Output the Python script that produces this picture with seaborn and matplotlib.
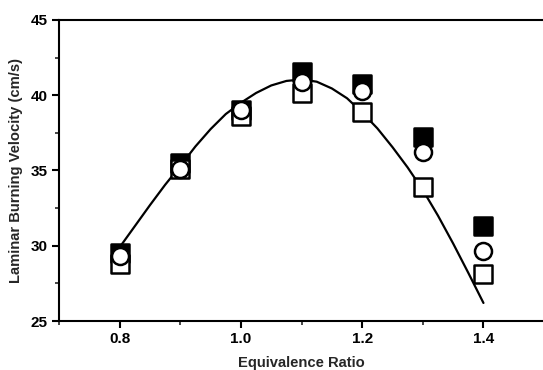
import matplotlib
matplotlib.use("Agg")
import matplotlib.pyplot as plt
from matplotlib.ticker import MultipleLocator
import seaborn as sns
import pandas as pd

# Data
phi = [0.8, 0.9, 1.0, 1.1, 1.2, 1.3, 1.4]
filled_sq = [29.5, 35.5, 39.0, 41.55, 40.75, 37.25, 31.3]
open_circle = [29.3, 35.1, 39.0, 40.85, 40.25, 36.25, 29.65]
open_sq = [28.8, 35.1, 38.6, 40.15, 38.9, 33.9, 28.1]

curve_x = [0.80, 0.825, 0.85, 0.875, 0.90, 0.925, 0.95, 0.975, 1.00, 1.025,
           1.05, 1.075, 1.10, 1.125, 1.15, 1.175, 1.20, 1.225, 1.25, 1.275,
           1.30, 1.325, 1.35, 1.375, 1.40]
curve_y = [29.9, 31.3, 32.7, 34.05, 35.3, 36.6, 37.75, 38.75, 39.5, 40.15,
           40.65, 40.95, 41.05, 40.9, 40.45, 39.8, 38.85, 37.8, 36.55, 35.2,
           33.7, 32.0, 30.15, 28.2, 26.2]

sns.set_style("ticks")
plt.rcParams['font.family'] = ['Liberation Sans', 'DejaVu Sans']

fig = plt.figure(figsize=(5.43, 3.70), dpi=100)
ax = fig.add_axes([0.1087, 0.1324, 0.8913 + 0.002, 0.8136])

df_curve = pd.DataFrame({"x": curve_x, "y": curve_y})
sns.lineplot(data=df_curve, x="x", y="y", ax=ax, color="black", linewidth=1.6,
             sort=False, zorder=2)

ms = 150
ew = 1.8
sns.scatterplot(x=phi, y=filled_sq, ax=ax, marker="s", s=ms, color="black",
                edgecolor="black", linewidth=ew, zorder=3)
sns.scatterplot(x=phi, y=open_sq, ax=ax, marker="s", s=ms, color="white",
                edgecolor="black", linewidth=ew, zorder=4)
sns.scatterplot(x=phi, y=open_circle, ax=ax, marker="o", s=ms * 1.0, color="white",
                edgecolor="black", linewidth=ew, zorder=5)

ax.set_xlim(0.7, 1.5)
ax.set_ylim(25, 45)
ax.xaxis.set_minor_locator(MultipleLocator(0.1))
ax.yaxis.set_major_locator(MultipleLocator(5))
ax.yaxis.set_minor_locator(MultipleLocator(2.5))
ax.set_xticks([0.8, 1.0, 1.2, 1.4])
ax.set_xticklabels(["0.8", "1.0", "1.2", "1.4"])

for s in ["left", "bottom", "top"]:
    ax.spines[s].set_linewidth(1.5)
    ax.spines[s].set_color("black")
ax.spines["right"].set_visible(False)

ax.tick_params(axis="both", which="major", direction="out", length=5, width=1.5,
               labelsize=11, colors="black", pad=3)
ax.tick_params(axis="both", which="minor", direction="out", length=3, width=1.2)
ax.tick_params(axis="x", top=False, which="both")
for lab in ax.get_xticklabels() + ax.get_yticklabels():
    lab.set_fontweight("bold")

ax.set_xlabel("Equivalence Ratio", fontsize=10.6, fontweight="bold", labelpad=7)
ax.set_ylabel("Laminar Burning Velocity (cm/s)", fontsize=10.6, fontweight="bold", labelpad=6)
if ax.get_legend() is not None:
    ax.get_legend().remove()

fig.savefig("out.png", dpi=100)
